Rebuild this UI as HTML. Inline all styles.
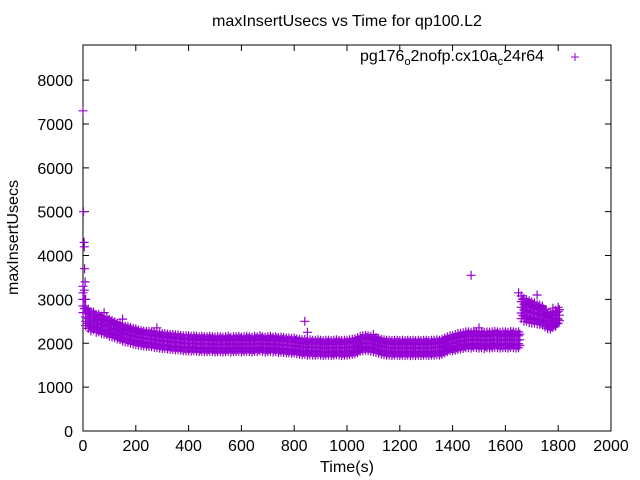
<!DOCTYPE html>
<html><head><meta charset="utf-8">
<style>
body{margin:0;background:#fff;}
svg{display:block;font-family:"Liberation Sans",sans-serif;}
</style></head><body>
<svg id="chart" width="640" height="480">
<rect x="0" y="0" width="640" height="480" fill="#fff"/>
<text x="212" y="26" font-size="16" textLength="270" lengthAdjust="spacingAndGlyphs">maxInsertUsecs vs Time for qp100.L2</text>
<text x="320" y="472" font-size="16" textLength="54" lengthAdjust="spacingAndGlyphs">Time(s)</text>
<text transform="translate(18,295) rotate(-90)" font-size="16" textLength="115" lengthAdjust="spacingAndGlyphs">maxInsertUsecs</text>
<g id="axes"></g>
<g id="points"></g>
<g>
<text x="360" y="61" font-size="16" textLength="184" lengthAdjust="spacingAndGlyphs">pg176<tspan dy="4" font-size="11">o</tspan><tspan dy="-4">2nofp.cx10a</tspan><tspan dy="4" font-size="11">c</tspan><tspan dy="-4">24r64</tspan></text>
<path d="M571 57h8M575 53v8" stroke="#9400d3" stroke-width="1"/>
</g>
</svg>
<script>
const xTicks=[0,200,400,600,800,1000,1200,1400,1600,1800,2000];
const yTicks=[0,1000,2000,3000,4000,5000,6000,7000,8000];
const mid=[3000,2600,2560,2500,2510,2450,2460,2420,2400,2390,
2350,2330,2310,2280,2260,2230,2210,2200,2180,2160,
2150,2130,2120,2110,2100,2100,2090,2080,2070,2060,
2050,2050,2040,2030,2030,2020,2020,2010,2000,2000,
2000,1990,2000,1990,1980,1990,1980,1980,1990,1980,
1970,1980,1980,1970,1980,1990,1970,1980,1980,1990,
1970,1980,1990,1980,1970,1990,1980,2000,1980,1970,
1980,1990,1970,1980,1960,1970,1960,1950,1950,1940,
1950,1930,1920,1910,1920,1900,1910,1900,1900,1910,
1900,1890,1900,1900,1890,1900,1910,1900,1890,1900,
1900,1910,1920,1930,1960,1990,2000,2010,2000,1990,
1980,1960,1940,1920,1910,1900,1900,1890,1900,1900,
1890,1900,1890,1900,1890,1900,1890,1900,1890,1900,
1900,1890,1900,1900,1910,1900,1920,1950,1980,2000,
2000,2020,2040,2050,2060,2080,2080,2070,2090,2080,
2070,2080,2060,2080,2070,2080,2090,2080,2070,2080,
2080,2070,2090,2080,2070,2080,2820,2760,2750,2720,
2700,2690,2660,2650,2620,2570,2510,2500,2540,2570,2640];
const spread=[300,200,220,220,200,200,200,200,190,190,
190,190,180,180,180,180,180,180,180,180,
180,170,170,170,170,170,170,170,170,170,
170,170,170,170,170,170,170,170,170,170,
170,170,170,170,170,170,170,170,170,170,
170,170,170,170,170,170,170,170,170,170,
170,170,170,170,170,170,170,170,170,170,
170,170,170,170,170,170,170,170,170,170,
170,170,170,170,170,170,170,170,170,170,
170,170,170,170,170,170,170,170,170,170,
170,170,170,170,170,170,170,170,170,170,
170,170,170,170,170,170,170,170,170,170,
170,170,170,170,170,170,170,170,170,170,
170,170,170,170,170,170,170,170,170,170,
170,180,180,180,180,180,180,180,180,180,
180,180,180,180,180,180,180,180,180,180,
180,180,180,180,180,180,260,260,250,250,
240,230,220,220,200,200,180,180,180,180,180];
const times=mid.map((v,i)=>i*10);
const outT=[0,2,4,5,6,8,10,80,150,280,840,850,1100,1470,1500,1650,1665,1690,1720,1740,1770,1780];
const outV=[7300,5000,4300,4200,3700,3400,3000,2700,2550,2350,2500,2250,2200,3550,2350,3150,3000,2900,3100,2850,2400,2800];
const L=83,R=611,B=431,T=45,YMAX=8800;
const X=v=>L+v*(R-L)/2000;
const Y=v=>B-v*(B-T)/YMAX;
const NS='http://www.w3.org/2000/svg';
const axes=document.getElementById('axes');
function add(p,tag,attrs){const e=document.createElementNS(NS,tag);for(const k in attrs)e.setAttribute(k,attrs[k]);p.appendChild(e);return e;}
const frame=add(axes,'rect',{x:L,y:T,width:R-L,height:B-T,fill:'none',stroke:'#000','stroke-width':1});


xTicks.forEach(v=>{
 const l=add(axes,'path',{d:`M${X(v)} ${B}v-6M${X(v)} ${T}v6`,stroke:'#000'});
 
 
 const t=add(axes,'text',{x:X(v),y:451,'text-anchor':'middle','font-size':16});
 t.textContent=v;
 
 
});
yTicks.forEach(v=>{
 const l=add(axes,'path',{d:`M${L} ${Y(v)}h6M${R} ${Y(v)}h-6`,stroke:'#000'});
 
 
 const t=add(axes,'text',{x:73,y:Y(v)+6,'text-anchor':'end','font-size':16});
 t.textContent=v;
 
 
});
const pts=document.getElementById('points');
let d='';
function mark(t,v){if(!isFinite(v))return;const x=X(t),y=Y(v);d+=`M${(x-4.5).toFixed(1)} ${y.toFixed(1)}h9M${x.toFixed(1)} ${(y-4.5).toFixed(1)}v9`;}
times.forEach((t,i)=>{
 const m=mid[i],s=spread[i]||170;
 mark(t,m-s);mark(t,m-s/2);mark(t,m);mark(t,m+s/2);mark(t,m+s);
 mark(t+5,m-s*0.7);mark(t+5,m);mark(t+5,m+s*0.7);
});
outT.forEach((t,i)=>mark(t,outV[i]));
const p=add(pts,'path',{d:d,stroke:'#9400d3','stroke-width':1.2,fill:'none'});


</script>
</body></html>
